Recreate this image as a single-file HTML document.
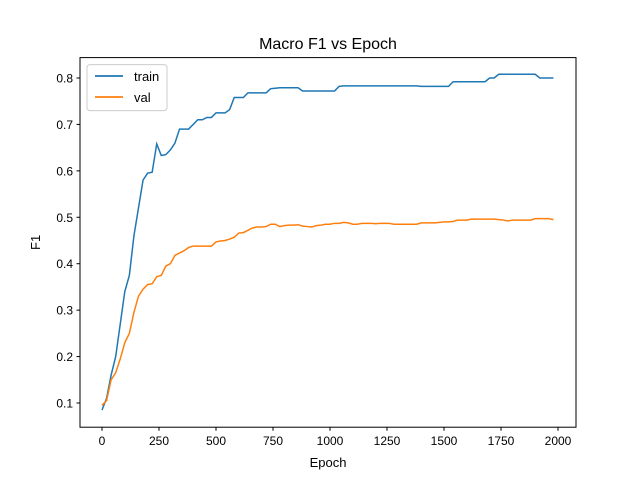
<!DOCTYPE html>
<html><head><meta charset="utf-8"><style>
body{margin:0;background:#fff;}
svg{font-family:"Liberation Sans","DejaVu Sans",sans-serif;}
</style></head><body>
<svg id="chart" width="640" height="480">
<rect x="0" y="0" width="640" height="480" fill="#fff"/>
<text x="328" y="49" text-anchor="middle" font-size="16">Macro F1 vs Epoch</text>
<g id="plot"></g>
<rect x="80" y="57.6" width="496" height="369.6" fill="none" stroke="#000" stroke-width="1"/>
<text x="328" y="467" text-anchor="middle" font-size="13">Epoch</text>
<text transform="translate(40,242.4) rotate(-90)" text-anchor="middle" font-size="13">F1</text>
<g>
<rect x="87" y="64.6" width="80" height="46" rx="3" fill="#fff" stroke="#ccc"/>
<line x1="95" y1="76" x2="123" y2="76" stroke="#1f77b4" stroke-width="1.8"/>
<text x="134" y="81" font-size="13">train</text>
<line x1="95" y1="97" x2="123" y2="97" stroke="#ff7f0e" stroke-width="1.8"/>
<text x="134" y="102" font-size="13">val</text>
</g>
</svg>
<script>
const epochs=[];for(let i=0;i<100;i++)epochs.push(i*20);
const trainF1=[0.085,0.11,0.16,0.2,0.27,0.34,0.375,0.46,0.52,0.58,0.595,0.597,0.658,0.633,0.635,0.645,0.66,0.69,0.69,0.69,0.7,0.71,0.71,0.715,0.715,0.725,0.725,0.725,0.732,0.758,0.758,0.758,0.768,0.768,0.768,0.768,0.768,0.777,0.778,0.779,0.779,0.779,0.779,0.779,0.772,0.772,0.772,0.772,0.772,0.772,0.772,0.772,0.782,0.783,0.783,0.783,0.783,0.783,0.783,0.783,0.783,0.783,0.783,0.783,0.783,0.783,0.783,0.783,0.783,0.783,0.782,0.782,0.782,0.782,0.782,0.782,0.782,0.792,0.792,0.792,0.792,0.792,0.792,0.792,0.792,0.8,0.8,0.808,0.808,0.808,0.808,0.808,0.808,0.808,0.808,0.808,0.8,0.8,0.8,0.8];
const valF1=[0.095,0.105,0.15,0.165,0.195,0.23,0.25,0.295,0.33,0.345,0.355,0.357,0.372,0.375,0.395,0.4,0.418,0.423,0.428,0.435,0.438,0.438,0.438,0.438,0.438,0.447,0.449,0.45,0.453,0.457,0.466,0.467,0.472,0.477,0.479,0.479,0.48,0.485,0.485,0.48,0.482,0.483,0.483,0.484,0.481,0.48,0.479,0.482,0.483,0.485,0.485,0.487,0.487,0.489,0.488,0.485,0.485,0.487,0.487,0.487,0.486,0.487,0.487,0.487,0.485,0.485,0.485,0.485,0.485,0.485,0.488,0.488,0.488,0.488,0.489,0.49,0.49,0.491,0.494,0.494,0.494,0.496,0.496,0.496,0.496,0.496,0.496,0.495,0.494,0.492,0.494,0.494,0.494,0.494,0.494,0.497,0.497,0.497,0.497,0.495];
const xTicks=[0,250,500,750,1000,1250,1500,1750,2000];
const yTicks=[0.1,0.2,0.3,0.4,0.5,0.6,0.7,0.8];
const NS="http://www.w3.org/2000/svg";
const X=v=>102+v*0.228;
const Y=v=>403-(v-0.1)*464.3;
const g=document.getElementById('plot');
function mk(t,a){const e=document.createElementNS(NS,t);for(const k in a)e.setAttribute(k,a[k]);g.appendChild(e);return e;}
xTicks.forEach(t=>{
 const l=mk('line',{x1:X(t),x2:X(t),y1:427.2,y2:430.7,stroke:'#000'});
 
 
 const tx=mk('text',{x:X(t),y:445,'text-anchor':'middle','font-size':'12'});tx.textContent=t;
 
 
});
yTicks.forEach(t=>{
 const l=mk('line',{x1:76.5,x2:80,y1:Y(t),y2:Y(t),stroke:'#000'});
 
 
 const tx=mk('text',{x:73,y:Y(t)+4.5,'text-anchor':'end','font-size':'12'});tx.textContent=t.toFixed(1);
 
 
});
function line(vals,color,name){
 const p=mk('polyline',{points:vals.map((v,i)=>X(epochs[i])+','+Y(v)).join(' '),fill:'none',stroke:color,'stroke-width':1.5});
 
 
}
line(trainF1,'#1f77b4','train-line');
line(valF1,'#ff7f0e','val-line');
</script>
</body></html>
